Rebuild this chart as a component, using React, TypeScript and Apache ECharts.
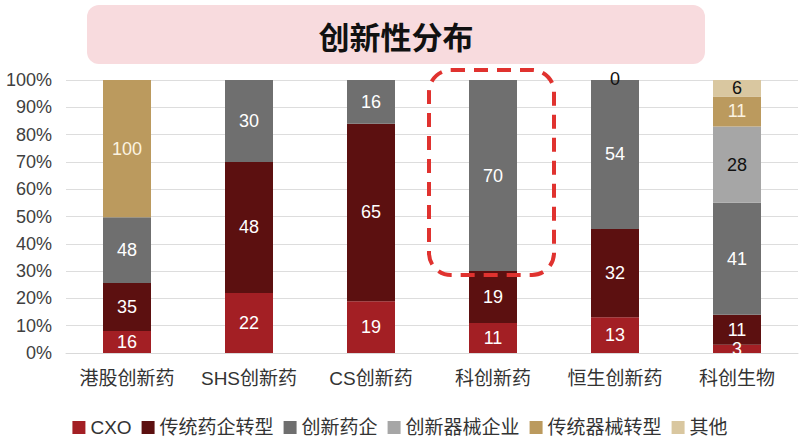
import React, { useEffect, useRef } from "react";
import * as echarts from "echarts";

const categories = ["港股创新药", "SHS创新药", "CS创新药", "科创新药", "恒生创新药", "科创生物"];
const seriesNames = ["CXO", "传统药企转型", "创新药企", "创新器械企业", "传统器械转型", "其他"];
const cxo = [16, 22, 19, 11, 13, 3];
const traditionalPharma = [35, 48, 65, 19, 32, 11];
const innovativePharma = [48, 30, 16, 70, 54, 41];
const innovativeDevice = [null, null, null, null, null, 28];
const traditionalDevice = [100, null, null, null, 0, 11];
const others = [null, null, null, null, null, 6];
const yTicks = [0, 10, 20, 30, 40, 50, 60, 70, 80, 90, 100];

const colors = ["#a31f24", "#5c1010", "#6f6f6f", "#a6a6a6", "#bb9a5e", "#d9c7a0"];
const labelColors = ["#ffffff", "#ffffff", "#ffffff", "#111111", "#fbf3e0", "#111111"];

export default function App() {
  const ref = useRef<HTMLDivElement>(null);
  useEffect(() => {
    if (!ref.current) return;
    const chart = echarts.init(ref.current, null, { renderer: "svg" });
    const raw: (number | null)[][] = [cxo, traditionalPharma, innovativePharma, innovativeDevice, traditionalDevice, others];
    const totals = categories.map((_, i) => raw.reduce((s, arr) => s + (arr[i] ?? 0), 0));
    const series = raw.map((arr, si) => ({
      name: seriesNames[si],
      type: "bar",
      stack: "total",
      barWidth: 48,
      itemStyle: { color: colors[si] },
      label: {
        show: true,
        position: "inside",
        fontSize: 18,
        fontFamily: "Arial, Liberation Sans, sans-serif",
        formatter: (p: any) => {
          const v = arr[p.dataIndex];
          return v === null || v === undefined ? "" : String(v);
        },
      },
      data: arr.map((v, i) =>
        v === null
          ? null
          : {
              value: (v / totals[i]) * 100,
              label: si === 4 && v === 0 ? { color: "#111111", offset: [0, -1] } : { color: labelColors[si] },
            }
      ),
    }));
    chart.setOption({
      animation: false,
      textStyle: { fontFamily: "Arial, Liberation Sans, Noto Sans CJK SC, sans-serif" },
      grid: { left: 66, right: 2, top: 80, bottom: 88, containLabel: false },
      xAxis: {
        type: "category",
        data: categories,
        axisLine: { lineStyle: { color: "#d9d9d9" } },
        axisTick: { show: false },
        axisLabel: { fontSize: 19, color: "#333333", margin: 16, interval: 0 },
      },
      yAxis: {
        type: "value",
        min: yTicks[0],
        max: yTicks[yTicks.length - 1],
        interval: 10,
        axisLabel: { formatter: "{value}%", fontSize: 18, color: "#404040", margin: 14 },
        axisLine: { show: false },
        axisTick: { show: false },
        splitLine: { lineStyle: { color: "#dddddd" } },
      },
      legend: {
        data: seriesNames,
        left: "center",
        top: 413,
        icon: "rect",
        itemWidth: 13,
        itemHeight: 13,
        itemGap: 10,
        textStyle: { fontSize: 19, color: "#333333" },
      },
      graphic: [
        {
          type: "rect",
          shape: { x: 87, y: 5, width: 618, height: 59, r: 12 },
          style: { fill: "#f8dbde" },
          z: 0,
        },
        {
          type: "text",
          x: 396,
          y: 35,
          style: {
            text: "创新性分布",
            font: "bold 31px 'Noto Sans CJK SC', sans-serif",
            fill: "#111111",
            textAlign: "center",
            textVerticalAlign: "middle",
          },
          z: 1,
        },
        {
          type: "rect",
          shape: { x: 429, y: 70, width: 125, height: 205, r: 22 },
          style: { fill: "none", stroke: "#e0322f", lineWidth: 4, lineDash: [14, 9] },
          z: 10,
        },
      ],
      series,
    });
    return () => chart.dispose();
  }, []);
  return <div ref={ref} style={{ position: "fixed", left: 0, top: 0, width: 800, height: 441, background: "#ffffff" }} />;
}
